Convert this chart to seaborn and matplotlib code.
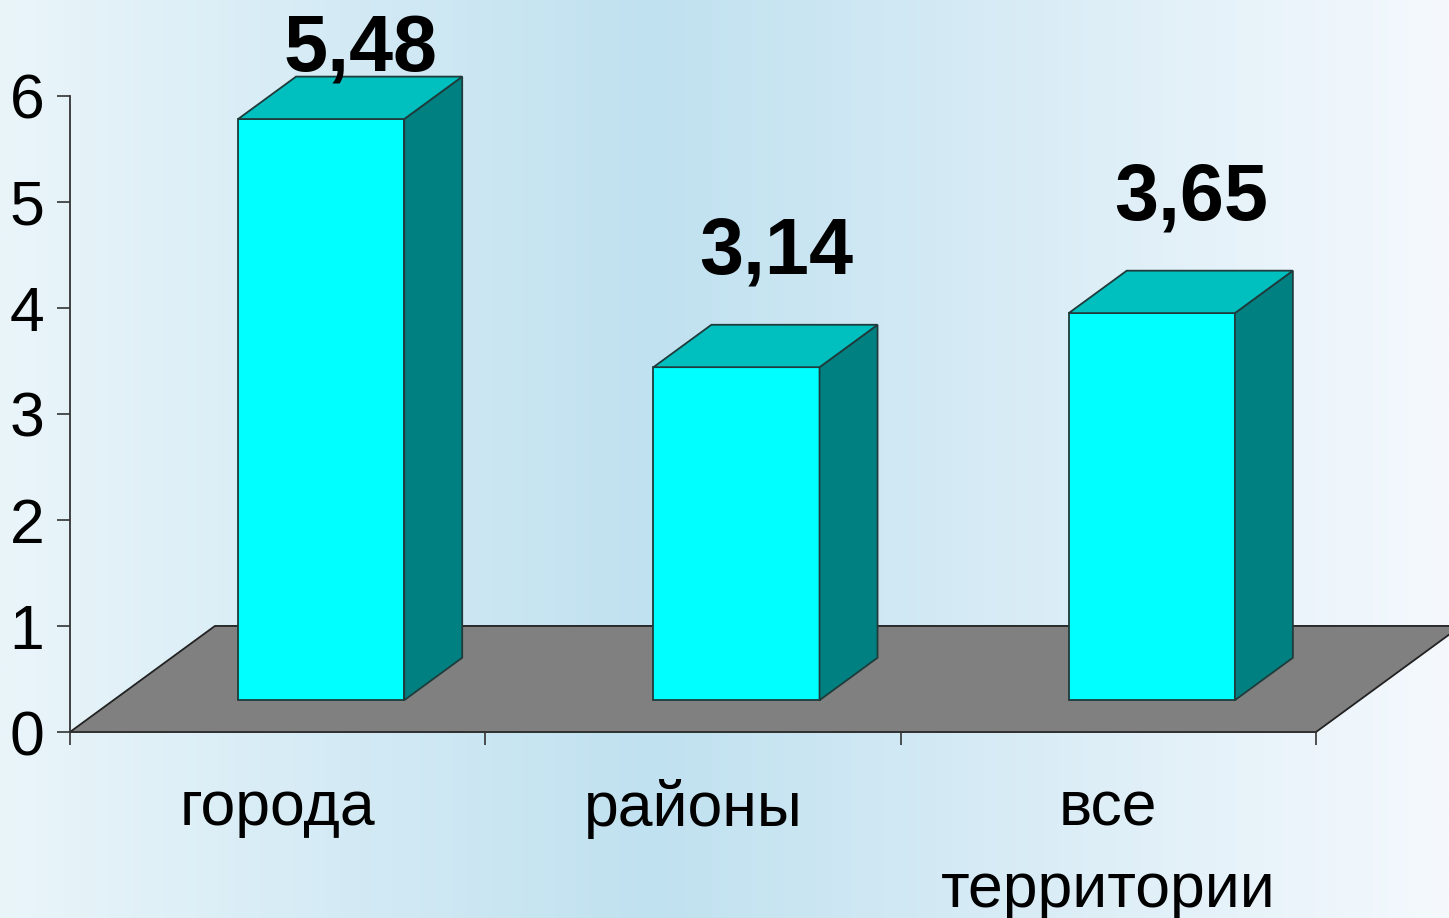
import numpy as np
import matplotlib
matplotlib.use("Agg")
import matplotlib.pyplot as plt
from matplotlib.patches import Polygon
import seaborn as sns

# data
categories = ["города", "районы", "все\nтерритории"]
values = [5.48, 3.14, 3.65]
y_ticks = [0, 1, 2, 3, 4, 5, 6]

FRONT = "#00FFFF"
SIDE = "#008080"
TOP = "#00BFBF"
FLOOR = "#808080"
EDGE = "#1f3b3b"

sns.set_style("ticks")
plt.rcParams["font.family"] = ["Liberation Sans", "DejaVu Sans"]

fig = plt.figure(figsize=(14.49, 9.18), dpi=100)

# background gradient (light -> blue -> light)
bg = fig.add_axes([0, 0, 1, 1], zorder=-10)
stops = np.array([0.0, 0.45, 1.0])
cols = np.array([[234, 245, 250], [192, 225, 240], [245, 249, 253]]) / 255.0
xs = np.linspace(0, 1, 600)
grad = np.stack([np.interp(xs, stops, cols[:, k]) for k in range(3)], axis=-1)
bg.imshow(grad[None, :, :], aspect="auto", extent=[0, 1, 0, 1])
bg.axis("off")

W, H = 1449, 918
ax = fig.add_axes([70 / W, (H - 732) / H, (1316 - 70) / W, (732 - 95.7) / H])
ax.set_facecolor("none")

sns.barplot(x=categories, y=values, color=FRONT, saturation=1, width=0.4,
            edgecolor=EDGE, linewidth=1.3, ax=ax, zorder=3)
bars = list(ax.patches)

ax.set_xlim(-0.5, 2.5)
ax.set_ylim(0, 6)

# pseudo-3D geometry in data units
floor_dx, floor_dy = 0.349, 1.0
front_dx, front_dy = 0.3 * floor_dx, 0.3 * floor_dy
depth_dx, depth_dy = 0.4 * floor_dx, 0.4 * floor_dy

x0, x1 = ax.get_xlim()
floor = Polygon([(x0, 0), (x1, 0), (x1 + floor_dx, floor_dy), (x0 + floor_dx, floor_dy)],
                closed=True, facecolor=FLOOR, edgecolor="#222222", linewidth=1.3,
                clip_on=False, zorder=1)
ax.add_patch(floor)

for i, (bar, v) in enumerate(zip(bars, values)):
    bar.set_x(bar.get_x() + front_dx)
    bar.set_y(front_dy)
    bar.set_clip_on(False)
    bx0 = bar.get_x()
    bx1 = bx0 + bar.get_width()
    by0 = bar.get_y()
    by1 = by0 + bar.get_height()
    side = Polygon([(bx1, by0), (bx1 + depth_dx, by0 + depth_dy),
                    (bx1 + depth_dx, by1 + depth_dy), (bx1, by1)],
                   closed=True, facecolor=SIDE, edgecolor=EDGE, linewidth=1.3,
                   clip_on=False, zorder=3)
    top = Polygon([(bx0, by1), (bx1, by1), (bx1 + depth_dx, by1 + depth_dy),
                   (bx0 + depth_dx, by1 + depth_dy)],
                  closed=True, facecolor=TOP, edgecolor=EDGE, linewidth=1.3,
                  clip_on=False, zorder=3)
    ax.add_patch(side)
    ax.add_patch(top)
    label = f"{v:.2f}".replace(".", ",")
    ax.text(i + 0.2, min(v + 1.18, 6.24), label, ha="center", va="baseline",
            fontsize=57, fontweight="bold", color="black", clip_on=False, zorder=5)

# axes styling
for s in ["top", "right"]:
    ax.spines[s].set_visible(False)
for s in ["left", "bottom"]:
    ax.spines[s].set_color("#333333")
    ax.spines[s].set_linewidth(1.3)
    ax.spines[s].set_zorder(2)

ax.set_yticks(y_ticks)
ax.set_yticklabels([str(t) for t in y_ticks])
ax.tick_params(axis="y", length=9.4, width=1.2, color="#333333", pad=9,
               labelsize=45, labelcolor="black", direction="out")
ax.set_xticks([0, 1, 2])
ax.set_xticklabels(categories)
ax.set_xticks([-0.5, 0.5, 1.5, 2.5], minor=True)
ax.tick_params(axis="x", which="major", length=0, pad=34, labelsize=45,
               labelcolor="black")
ax.tick_params(axis="x", which="minor", length=9.4, width=1.2, color="#333333",
               direction="out")
for lab in ax.get_xticklabels():
    lab.set_linespacing(1.5)
ax.set_xlabel("")
ax.set_ylabel("")

fig.savefig("out.png", dpi=100)
